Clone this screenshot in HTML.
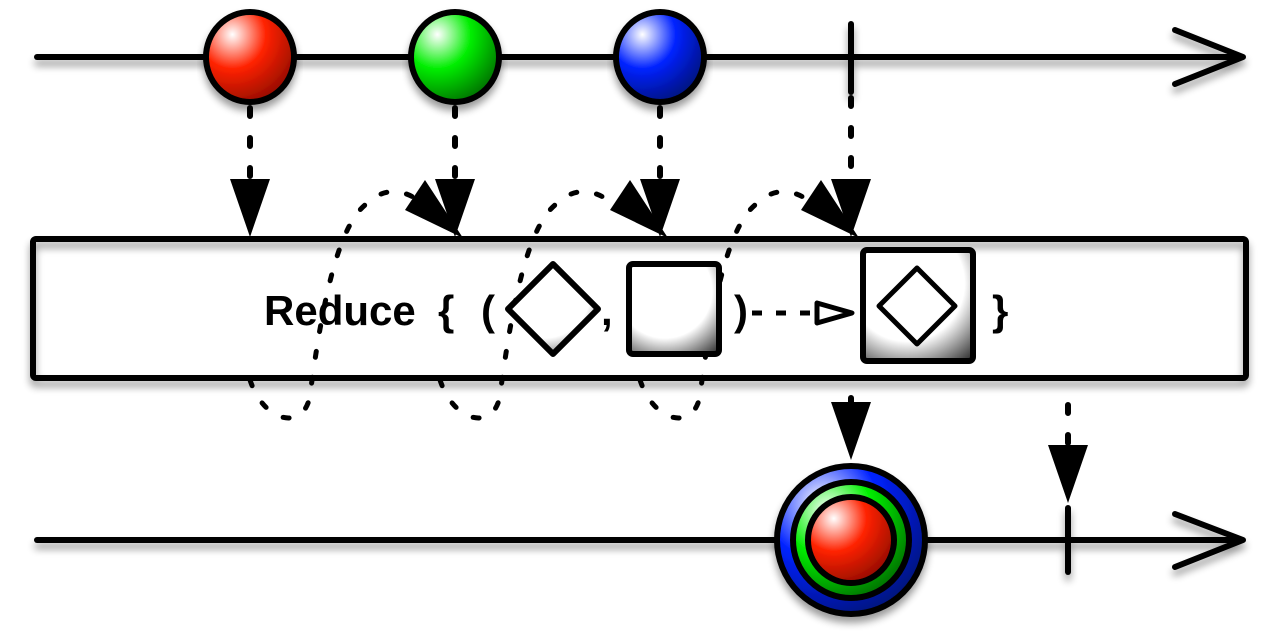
<!DOCTYPE html>
<html><head><meta charset="utf-8"><style>
html,body{margin:0;padding:0;background:#fff;width:1280px;height:640px;overflow:hidden}
svg{display:block}
text{font-family:"Liberation Sans",sans-serif;font-weight:bold}
</style></head><body>
<svg id="c" width="1280" height="640" viewBox="0 0 1280 640">
<defs>
<radialGradient id="gr" cx="0.3" cy="0.25" r="0.85"><stop offset="0" stop-color="#fff"/><stop offset="0.45" stop-color="#ff2200"/><stop offset="1" stop-color="#8a0a00"/></radialGradient>
<radialGradient id="gg" cx="0.3" cy="0.25" r="0.85"><stop offset="0" stop-color="#fff"/><stop offset="0.45" stop-color="#00ee00"/><stop offset="1" stop-color="#006600"/></radialGradient>
<radialGradient id="gb" cx="0.3" cy="0.25" r="0.85"><stop offset="0" stop-color="#fff"/><stop offset="0.45" stop-color="#0022ff"/><stop offset="1" stop-color="#001070"/></radialGradient>
<radialGradient id="gw" cx="0.4" cy="0.3" r="0.95"><stop offset="0" stop-color="#fff"/><stop offset="0.55" stop-color="#fff"/><stop offset="1" stop-color="#111"/></radialGradient>
<filter id="sh" x="-10%" y="-50%" width="120%" height="250%"><feGaussianBlur in="SourceAlpha" stdDeviation="4"/><feOffset dy="6"/><feComponentTransfer><feFuncA type="linear" slope="0.4"/></feComponentTransfer><feMerge><feMergeNode/><feMergeNode in="SourceGraphic"/></feMerge></filter>
</defs>
<g id="root"></g>
</svg>
<script>
const inputX = [250, 455, 660];
const inputColors = ['gr', 'gg', 'gb'];
const completeX = 851;
const resultX = 851;
const resultCompleteX = 1068;

const NS = 'http://www.w3.org/2000/svg';
const root = document.getElementById('root');
function el(tag, attrs, parent) {
  const e = document.createElementNS(NS, tag);
  for (const k in attrs) e.setAttribute(k, attrs[k]);
  (parent || root).appendChild(e);
  return e;
}
const topY = 57, botY = 540;

const tl1 = el('g', {filter: 'url(#sh)'});


el('line', {x1: 37, y1: topY, x2: 1240, y2: topY, stroke: '#000', 'stroke-width': 6, 'stroke-linecap': 'round'}, tl1);
el('polyline', {points: `1175,30 1243,${topY} 1175,84`, fill: 'none', stroke: '#000', 'stroke-width': 6, 'stroke-linecap': 'round', 'stroke-linejoin': 'round'}, tl1);
const tk1 = el('line', {x1: completeX, y1: 24, x2: completeX, y2: 92, stroke: '#000', 'stroke-width': 6, 'stroke-linecap': 'round'}, tl1);



const tl2 = el('g', {filter: 'url(#sh)'});


el('line', {x1: 37, y1: botY, x2: 1240, y2: botY, stroke: '#000', 'stroke-width': 6, 'stroke-linecap': 'round'}, tl2);
el('polyline', {points: `1175,514 1243,${botY} 1175,567`, fill: 'none', stroke: '#000', 'stroke-width': 6, 'stroke-linecap': 'round', 'stroke-linejoin': 'round'}, tl2);
const tk2 = el('line', {x1: resultCompleteX, y1: 508, x2: resultCompleteX, y2: 572, stroke: '#000', 'stroke-width': 6, 'stroke-linecap': 'round'}, tl2);



function downArrow(x, y1, tipY, name, dashed) {
  const g = el('g', {});
  
  
  el('line', {x1: x, y1: y1, x2: x, y2: tipY - 50, stroke: '#000', 'stroke-width': 6, 'stroke-linecap': 'round', 'stroke-dasharray': dashed ? '8 22' : 'none'}, g);
  el('polygon', {points: `${x-20},${tipY-58} ${x+20},${tipY-58} ${x},${tipY}`, fill: '#000'}, g);
}
inputX.forEach((x, i) => downArrow(x, 108, 237, 'emission-arrow-' + (i + 1), true));
downArrow(completeX, 98, 237, 'complete-arrow', true);
downArrow(resultX, 398, 460, 'result-arrow', false);
downArrow(resultCompleteX, 405, 503, 'result-complete-arrow', true);

const loops = [[250, 455], [440, 660], [640, 851]];
loops.forEach((l, i) => {
  const [a, b] = l;
  const g = el('g', {});
  
  
  el('path', {d: `M${a},380 C${a+15},425 ${a+55},430 ${a+60},395 C${a+70},320 ${a+85},230 ${a+115},205 C${a+140},180 ${a+165},195 ${a+180},210`, fill: 'none', stroke: '#000', 'stroke-width': 5, 'stroke-linecap': 'round', 'stroke-dasharray': '6 20'}, g);
  el('polygon', {points: `${b-50},${210} ${b-30},${180} ${b+8},${238}`, fill: '#000'}, g);
});

const box = el('g', {filter: 'url(#sh)'});


el('rect', {x: 33, y: 239, width: 1213, height: 139, rx: 3, fill: 'none', stroke: '#000', 'stroke-width': 6}, box);

function txt(x, s, name) {
  const t = el('text', {x: x, y: 325, 'font-size': 42});
  t.textContent = s;
  
  
}
txt(264, 'Reduce', 'reduce-label');
txt(438, '{', 'open-brace');
txt(481, '(', 'open-paren');
const d1 = el('polygon', {points: '553,264 598,309 553,354 508,309', fill: 'url(#gw)', stroke: '#000', 'stroke-width': 6, 'stroke-linejoin': 'round'});


txt(601, ',', 'comma');
const s1 = el('rect', {x: 629, y: 264, width: 90, height: 90, rx: 4, fill: 'url(#gw)', stroke: '#000', 'stroke-width': 6});


txt(734, ')', 'close-paren');
const ar = el('g', {});


el('line', {x1: 752, y1: 313, x2: 812, y2: 313, stroke: '#000', 'stroke-width': 5, 'stroke-dasharray': '10 14'}, ar);
el('polygon', {points: '817,303 852,313 817,323', fill: '#fff', stroke: '#000', 'stroke-width': 5, 'stroke-linejoin': 'round'}, ar);
const s2 = el('g', {});


el('rect', {x: 863, y: 250, width: 110, height: 111, rx: 4, fill: 'url(#gw)', stroke: '#000', 'stroke-width': 6}, s2);
el('polygon', {points: '917,268 955,306 917,344 879,306', fill: 'none', stroke: '#000', 'stroke-width': 5, 'stroke-linejoin': 'round'}, s2);
txt(992, '}', 'close-brace');

inputX.forEach((x, i) => {
  const m = el('ellipse', {cx: x, cy: topY, rx: 44, ry: 45, fill: `url(#${inputColors[i]})`, stroke: '#000', 'stroke-width': 6, filter: 'url(#sh)'});
  
  
});

const rm = el('g', {filter: 'url(#sh)'});


el('circle', {cx: resultX, cy: botY, r: 74, fill: 'url(#gb)', stroke: '#000', 'stroke-width': 6}, rm);
el('circle', {cx: resultX, cy: botY, r: 58, fill: 'url(#gg)', stroke: '#000', 'stroke-width': 6}, rm);
el('circle', {cx: resultX, cy: botY, r: 43, fill: 'url(#gr)', stroke: '#000', 'stroke-width': 6}, rm);
</script>
</body></html>
